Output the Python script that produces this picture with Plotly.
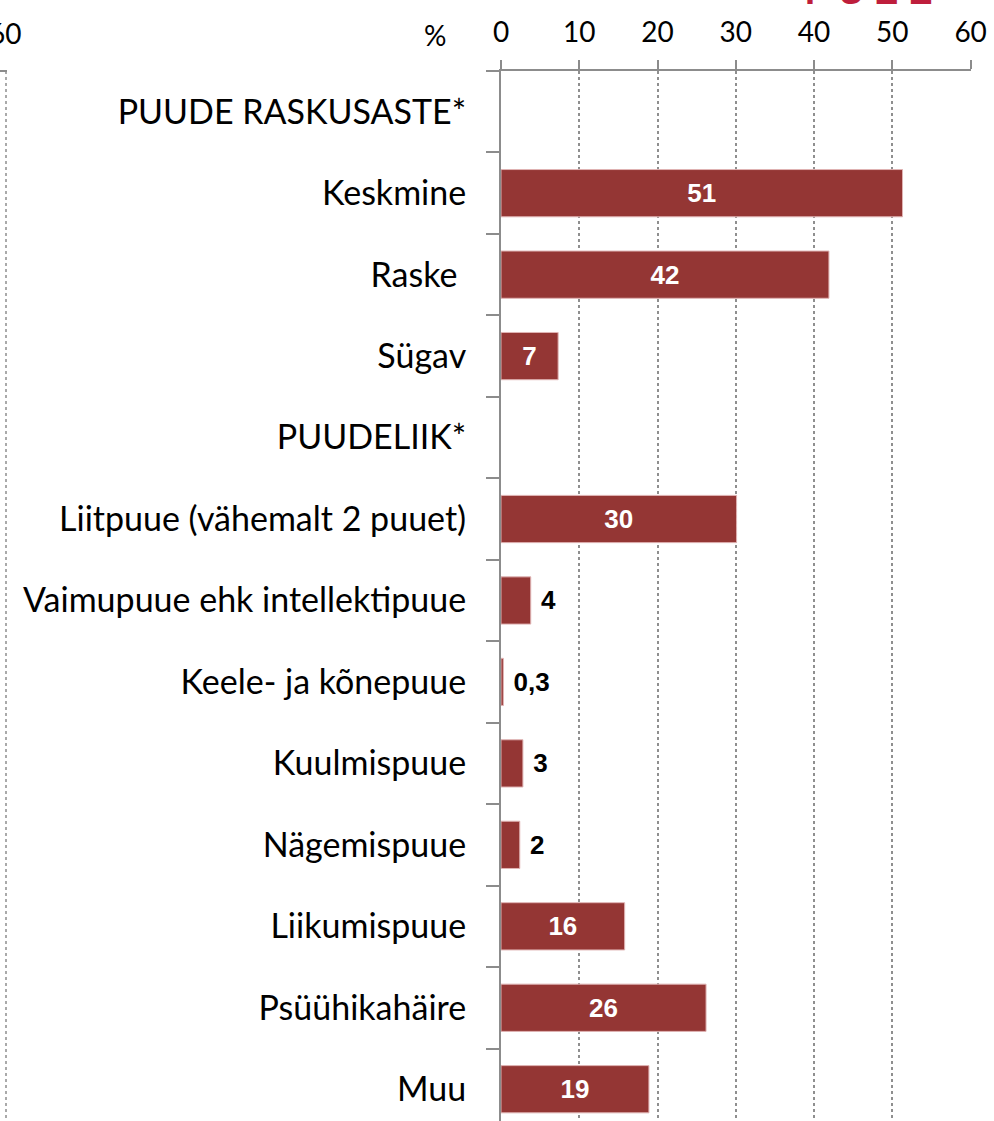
import plotly.graph_objects as go

categories = ["PUUDE RASKUSASTE*", "Keskmine", "Raske\u00a0", "Sügav", "PUUDELIIK*",
              "Liitpuue (vähemalt 2 puuet)", "Vaimupuue ehk intellektipuue",
              "Keele- ja kõnepuue", "Kuulmispuue", "Nägemispuue", "Liikumispuue",
              "Psüühikahäire", "Muu"]
values = [None, 51.3, 41.9, 7.3, None, 30.1, 3.8, 0.3, 2.8, 2.4, 15.8, 26.2, 18.9]
labels = ["", "51", "42", "7", "", "30", "4", "0,3", "3", "2", "16", "26", "19"]
x_ticks = [0, 10, 20, 30, 40, 50, 60]

# small bars get their label outside in black
inside = [v is not None and v > 5 for v in values]
positions = ["inside" if i else "outside" for i in inside]
colors = ["white" if i else "black" for i in inside]
labels = [t if i else "\u00a0" + t for t, i in zip(labels, inside)]

W, H = 994, 1121
ML, MR, MT, MB = 501, 23, 71, 0
pw, ph = W - ML - MR, H - MT - MB


def px_x(p):
    return (p - ML) / pw


def px_y(p):
    return 1 - (p - MT) / ph


fig = go.Figure(go.Bar(
    y=categories, x=values, orientation="h",
    marker=dict(color="#943634", line=dict(color="#e0b4b4", width=1)),
    text=labels, textposition=positions, insidetextanchor="middle",
    textfont=dict(family="Liberation Sans", size=26, color=colors, weight="bold"),
    cliponaxis=False,
))

fig.update_layout(
    width=W, height=H,
    margin=dict(l=ML, r=MR, t=MT, b=MB),
    plot_bgcolor="white", paper_bgcolor="white",
    showlegend=False, bargap=0.42,
    font=dict(family="Lato", color="black"),
)

fig.update_xaxes(
    side="top", range=[0, 60.05], tickvals=x_ticks,
    showgrid=True, gridcolor="#8f8f8f", griddash="dot", gridwidth=1.5,
    showline=True, linecolor="#8c8c8c", linewidth=2,
    ticks="outside", ticklen=9, tickwidth=2, tickcolor="#8c8c8c",
    tickfont=dict(size=28, family="Lato"), ticklabelstandoff=7,
    zeroline=False,
)
fig.update_yaxes(
    type="category", categoryorder="array", categoryarray=categories,
    range=[12.39, -0.5], tickson="boundaries",
    showgrid=False, showline=True, linecolor="#8c8c8c", linewidth=2,
    ticks="outside", ticklen=13, tickwidth=2, tickcolor="#8c8c8c",
    tickfont=dict(size=34, family="Lato"), ticklabelstandoff=26,
)

fig.add_annotation(text="%", xref="paper", yref="paper", x=px_x(448), y=px_y(35),
                   xanchor="right", yanchor="middle", showarrow=False,
                   font=dict(size=28, family="Lato"))
# cut-off pieces of the neighbouring slide content
fig.add_annotation(text="60", xref="paper", yref="paper", x=px_x(23), y=px_y(33),
                   xanchor="right", yanchor="middle", showarrow=False,
                   font=dict(size=28, family="Lato"))
fig.add_annotation(text="P U E E", xref="paper", yref="paper", x=px_x(868), y=px_y(14),
                   xanchor="center", yanchor="bottom", showarrow=False,
                   font=dict(size=36, family="Liberation Sans", color="#be1e3c", weight="bold"))
fig.add_shape(type="line", xref="paper", yref="paper", x0=px_x(6), x1=px_x(6),
              y0=px_y(71), y1=px_y(H), line=dict(color="#8f8f8f", width=1.5, dash="dot"))
fig.add_shape(type="line", xref="paper", yref="paper", x0=px_x(0), x1=px_x(7),
              y0=px_y(71), y1=px_y(71), line=dict(color="#8c8c8c", width=2))

fig.write_html("out.html", config={"displayModeBar": False},
               post_script="document.body.style.margin='0';")
